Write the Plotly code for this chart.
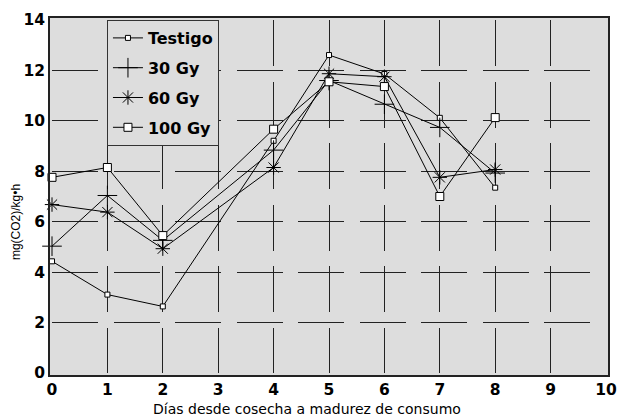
import plotly.graph_objects as go

days = [0, 1, 2, 4, 5, 6, 7, 8]
testigo = [4.43, 3.11, 2.64, 9.21, 12.61, 11.86, 10.12, 7.35]
gy30 = [5.03, 7.04, 5.26, 8.84, 11.6, 10.66, 9.74, 7.93]
gy60 = [6.68, 6.38, 4.93, 8.15, 11.87, 11.75, 7.76, 8.07]
gy100 = [7.76, 8.15, 5.45, 9.67, 11.55, 11.36, 7.0, 10.13]
names = ["Testigo", "30 Gy", "60 Gy", "100 Gy"]
xticks = list(range(0, 11))
yticks = list(range(0, 15, 2))

FONT = "Liberation Sans, Arial, sans-serif"
BOLD = "DejaVu Sans, sans-serif"
L, R, T, B = 52, 616.5, 19, 373
W, H = 628, 418

def px_x(p):
    return (p - L) / (R - L)

def px_y(p):
    return (B - p) / (B - T)

fig = go.Figure()
styles = [
    dict(symbol="square", size=5, color="white", line=dict(color="black", width=1)),
    dict(symbol="cross-thin-open", size=14, color="black", line=dict(color="black", width=1)),
    dict(symbol="asterisk-open", size=12, color="black", line=dict(color="black", width=1)),
    dict(symbol="square", size=8, color="white", line=dict(color="black", width=1)),
]
for i, (nm, ys) in enumerate(zip(names, [testigo, gy30, gy60, gy100])):
    fig.add_trace(go.Scatter(
        x=days, y=ys, name=nm, mode="lines+markers",
        line=dict(color="black", width=1),
        marker=styles[i], legendgroup=str(i), cliponaxis=False,
    ))

grid = dict(showgrid=True, gridcolor="#222222", gridwidth=1, griddash="46px,15.5px")
axis_common = dict(
    showline=True, linecolor="#222222", linewidth=1.5, mirror=True,
    ticks="", zeroline=False,
    tickfont=dict(family=BOLD, size=15.5, color="black", weight="bold"),
    **grid,
)
fig.update_xaxes(range=[0, 10], tickvals=xticks, **axis_common)
fig.update_yaxes(range=[0, 14], tickvals=yticks, **axis_common)

fig.update_layout(
    width=W, height=H,
    margin=dict(l=L, r=W - R, t=T, b=H - B, pad=2),
    paper_bgcolor="white", plot_bgcolor="#dddddd",
    font=dict(family=FONT, color="black"),
    showlegend=True,
    legend=dict(
        x=px_x(108), y=1, xanchor="left", yanchor="top",
        bgcolor="#dddddd", bordercolor="#333333", borderwidth=1,
        font=dict(family=BOLD, size=16, color="black", weight="bold"),
        tracegroupgap=6, itemwidth=30,
    ),
    annotations=[
        dict(text="Días desde cosecha a madurez de consumo", xref="paper", yref="paper",
             x=px_x(312), y=px_y(409), showarrow=False,
             font=dict(size=14, family="DejaVu Sans, sans-serif"),
             xanchor="center", yanchor="middle"),
        dict(text="mg(CO2)/kg•h", xref="paper", yref="paper", textangle=-90,
             x=px_x(16), y=px_y(222), showarrow=False, font=dict(size=12, family=FONT),
             xanchor="center", yanchor="middle"),
    ],
)
fig.write_html("out.html")
